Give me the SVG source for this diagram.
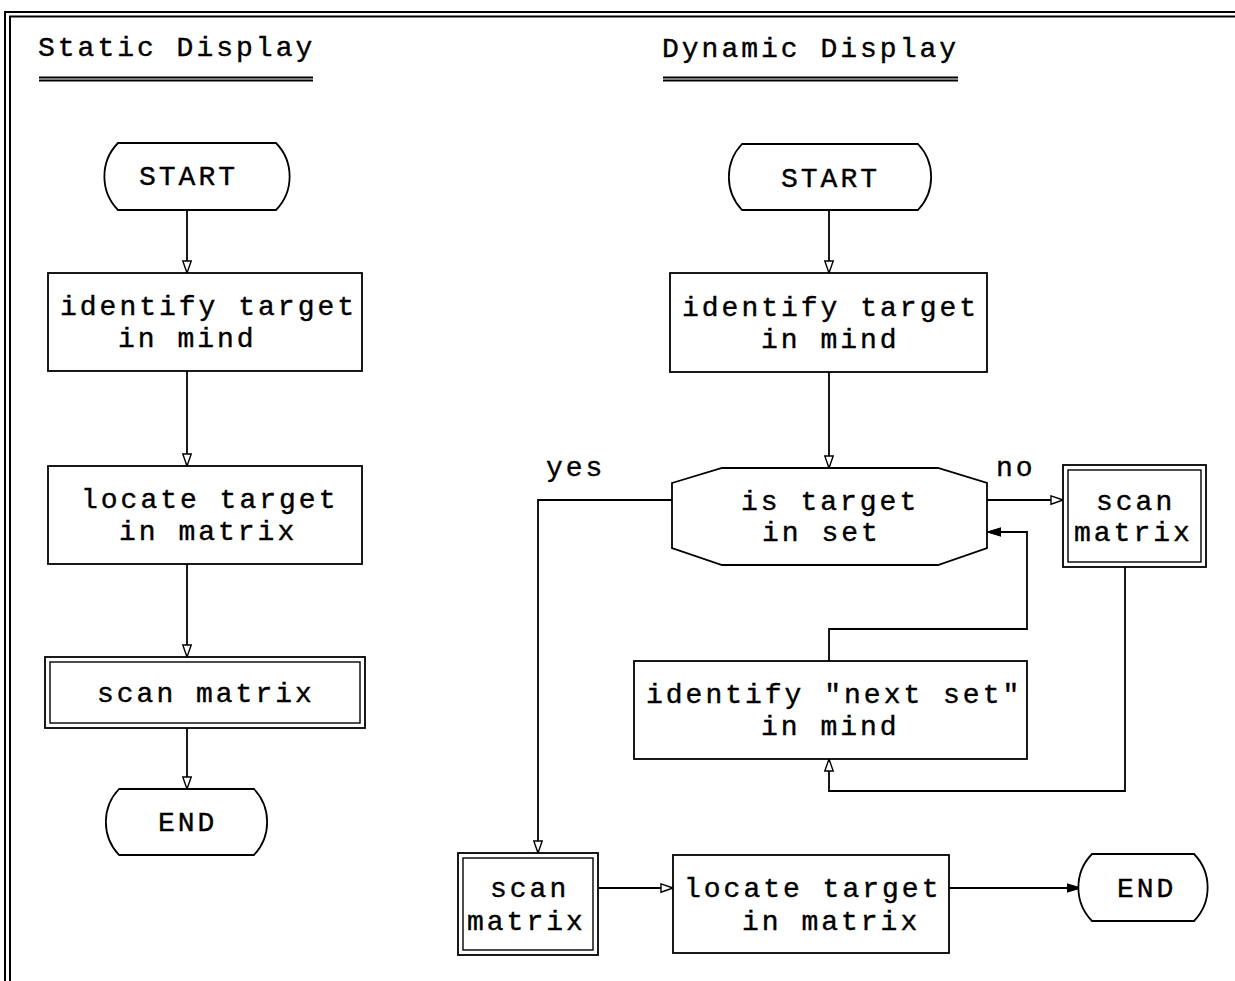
<svg xmlns="http://www.w3.org/2000/svg" width="1235" height="981" viewBox="0 0 1235 981">
<style>
  .t { font-family: "Liberation Mono", "Courier New", monospace; font-size: 28px; letter-spacing: 3px; fill: #000; stroke: #000; stroke-width: 0.4; }
  .s { fill: #fff; stroke: #000; stroke-width: 1.8; }
  .d { fill: none; stroke: #000; stroke-width: 1.4; }
  .c { fill: none; stroke: #000; stroke-width: 1.8; }
  .f { fill: none; stroke: #000; stroke-width: 2; }
</style>
<defs>
  <marker id="open" markerUnits="userSpaceOnUse" markerWidth="14" markerHeight="11" refX="13" refY="5" orient="auto">
    <path d="M1,0.8 L13,5 L1,9.2 Z" fill="#fff" stroke="#000" stroke-width="1.4"/>
  </marker>
  <marker id="solid" markerUnits="userSpaceOnUse" markerWidth="15" markerHeight="11" refX="14" refY="5" orient="auto">
    <path d="M0,0.8 L14,5 L0,9.2 Z" fill="#000" stroke="#000" stroke-width="1"/>
  </marker>
</defs>
<rect width="1235" height="981" fill="#fff"/>
<g id="frame">
  <path class="f" d="M5,981 V12 H1235"/>
  <path class="f" d="M10,981 V16.5 H1235" stroke-width="1.6"/>
</g>
<g id="title-static">
  <text class="t" x="38" y="56">Static Display</text>
  <path class="f" d="M39,77.5 H313 M39,80.5 H313"/>
</g>
<g id="title-dynamic">
  <text class="t" x="662" y="57">Dynamic Display</text>
  <path class="f" d="M663,77.5 H958 M663,80.5 H958"/>
</g>
<g id="connectors">
  <path class="c" d="M187,210 V273" marker-end="url(#open)"/>
  <path class="c" d="M187,371 V466" marker-end="url(#open)"/>
  <path class="c" d="M187,564 V657" marker-end="url(#open)"/>
  <path class="c" d="M187,728 V789" marker-end="url(#open)"/>
  <path class="c" d="M829,210 V273" marker-end="url(#open)"/>
  <path class="c" d="M829,372 V468" marker-end="url(#open)"/>
  <path class="c" d="M987,500 H1063" marker-end="url(#open)"/>
  <path class="c" d="M672,500 H538 V853" marker-end="url(#open)"/>
  <path class="c" d="M1125,567 V791 H829 V759" marker-end="url(#open)"/>
  <path class="c" d="M829,661 V629 H1027 V532 H987" marker-end="url(#solid)"/>
  <path class="c" d="M598,888 H673" marker-end="url(#open)"/>
  <path class="c" d="M949,888 H1081" marker-end="url(#solid)"/>
</g>
<g id="s-start">
  <path class="s" d="M118,143 H276 A48,48 0 0 1 276,210 H118 A48,48 0 0 1 118,143 Z"/>
  <text class="t" x="139" y="185">START</text>
</g>
<g id="s-identify">
  <rect class="s" x="48" y="273" width="314" height="98"/>
  <text class="t" x="60" y="315">identify target</text>
  <text class="t" x="118" y="347">in mind</text>
</g>
<g id="s-locate">
  <rect class="s" x="48" y="466" width="314" height="98"/>
  <text class="t" x="81" y="508">locate target</text>
  <text class="t" x="119" y="540">in matrix</text>
</g>
<g id="s-scan">
  <rect class="s" x="45" y="657" width="320" height="71"/>
  <rect class="d" x="50" y="662" width="310" height="61"/>
  <text class="t" x="97" y="702">scan matrix</text>
</g>
<g id="s-end">
  <path class="s" d="M119,789 H254 A48,48 0 0 1 254,855 H119 A48,48 0 0 1 119,789 Z"/>
  <text class="t" x="158" y="831">END</text>
</g>
<g id="d-start">
  <path class="s" d="M742,144 H918 A48,48 0 0 1 918,210 H742 A48,48 0 0 1 742,144 Z"/>
  <text class="t" x="781" y="187">START</text>
</g>
<g id="d-identify">
  <rect class="s" x="670" y="273" width="317" height="99"/>
  <text class="t" x="682" y="316">identify target</text>
  <text class="t" x="761" y="348">in mind</text>
</g>
<g id="d-decision">
  <polygon class="s" points="672,483 722,468 938,468 987,483 987,548 938,565 722,565 672,548"/>
  <text class="t" x="741" y="510">is target</text>
  <text class="t" x="762" y="541">in set</text>
  <text class="t" x="546" y="476">yes</text>
  <text class="t" x="996" y="476">no</text>
</g>
<g id="d-scan-right">
  <rect class="s" x="1063" y="465" width="143" height="102"/>
  <rect class="d" x="1068" y="470" width="133" height="92"/>
  <text class="t" x="1096" y="510">scan</text>
  <text class="t" x="1074" y="541">matrix</text>
</g>
<g id="d-next">
  <rect class="s" x="634" y="661" width="393" height="98"/>
  <text class="t" x="646" y="703">identify "next set"</text>
  <text class="t" x="761" y="735">in mind</text>
</g>
<g id="d-scan-bottom">
  <rect class="s" x="458" y="853" width="140" height="102"/>
  <rect class="d" x="463" y="858" width="130" height="92"/>
  <text class="t" x="490" y="897">scan</text>
  <text class="t" x="467" y="930">matrix</text>
</g>
<g id="d-locate">
  <rect class="s" x="673" y="855" width="276" height="98"/>
  <text class="t" x="684" y="897">locate target</text>
  <text class="t" x="742" y="930">in matrix</text>
</g>
<g id="d-end">
  <path class="s" d="M1092,854 H1194 A48,48 0 0 1 1194,921 H1092 A48,48 0 0 1 1092,854 Z"/>
  <text class="t" x="1117" y="897">END</text>
</g>
</svg>
